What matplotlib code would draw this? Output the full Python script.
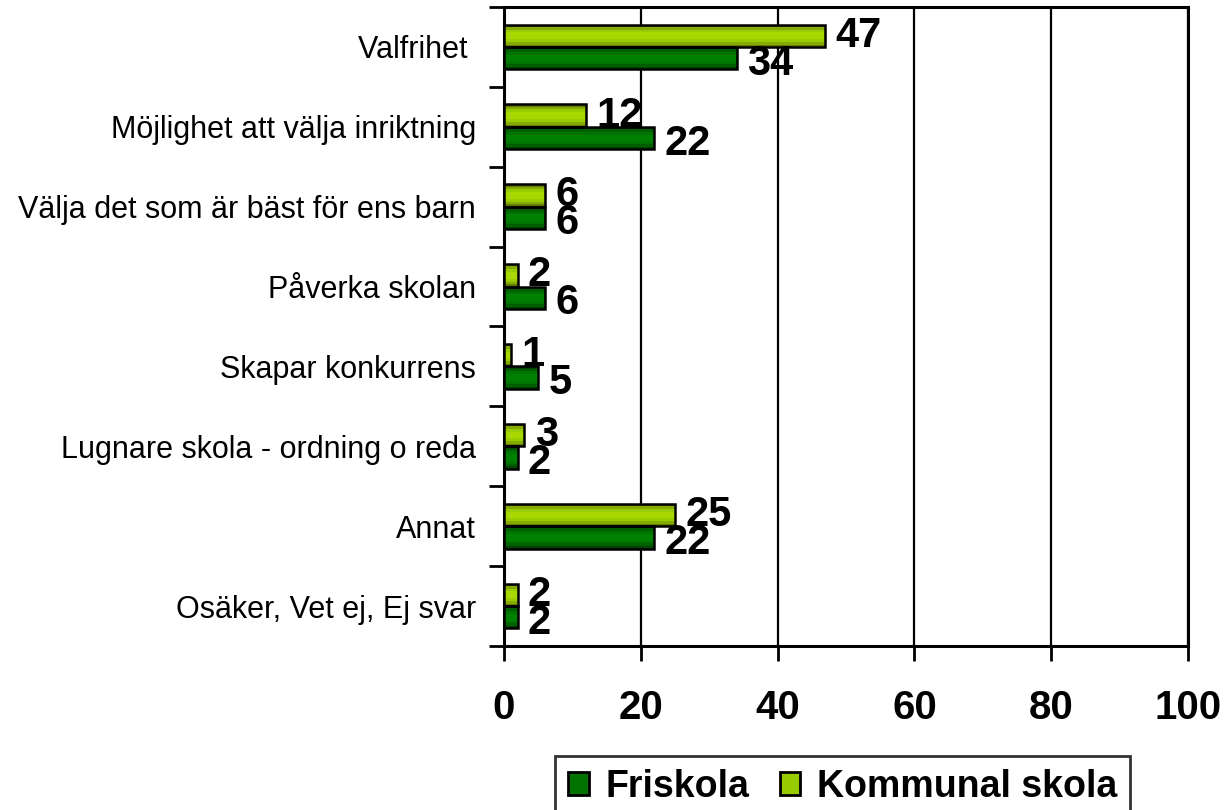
import numpy as np
import matplotlib.pyplot as plt
from matplotlib.patches import Patch

plt.rcParams['font.family'] = ['Liberation Sans', 'DejaVu Sans']

categories = ["Valfrihet ", "Möjlighet att välja inriktning", "Välja det som är bäst för ens barn",
              "Påverka skolan", "Skapar konkurrens", "Lugnare skola - ordning o reda",
              "Annat", "Osäker, Vet ej, Ej svar"]
friskola = [34, 22, 6, 6, 5, 2, 22, 2]
kommunal = [47, 12, 6, 2, 1, 3, 25, 2]
x_ticks = [0, 20, 40, 60, 80, 100]

# stripe colours, outer -> inner, to fake the gradient fill
dark_shades = ["#004400", "#006000", "#007400", "#008000"]
light_shades = ["#667a00", "#85aa00", "#99cc00", "#a8d800"]

fig = plt.figure(figsize=(12.25, 8.1), dpi=100)
ax = fig.add_axes([0.4114, 0.2025, 0.5584, 0.7889])

y = np.arange(len(categories))
h = 0.28

def striped_barh(ypos, vals, shades):
    fracs = [1.0, 0.8, 0.55, 0.3]
    for f, c in zip(fracs, shades):
        ax.barh(ypos, vals, height=h * f, color=c, linewidth=0, zorder=3)
    ax.barh(ypos, vals, height=h, fill=False, edgecolor="black", linewidth=1.8, zorder=4)

striped_barh(y - h / 2, kommunal, light_shades)
striped_barh(y + h / 2, friskola, dark_shades)

for i in range(len(categories)):
    ax.text(kommunal[i] + 1.5, y[i] - h / 2, str(kommunal[i]), va="center", ha="left",
            fontsize=30, fontweight="bold", zorder=5)
    ax.text(friskola[i] + 1.5, y[i] + h / 2 + 0.07, str(friskola[i]), va="center", ha="left",
            fontsize=30, fontweight="bold", zorder=5)

ax.set_xlim(0, 100)
ax.set_ylim(len(categories) - 0.5, -0.5)
ax.set_xticks(x_ticks)
ax.set_xticklabels([str(t) for t in x_ticks], fontsize=29, fontweight="bold")
ax.tick_params(axis="x", direction="out", length=11, width=2, pad=20)

# boundary ticks on the left, labels centred in each band
ax.set_yticks(np.arange(len(categories) + 1) - 0.5)
ax.set_yticklabels([])
ax.tick_params(axis="y", which="major", direction="out", length=11, width=2)
ax.set_yticks(y, minor=True)
ax.set_yticklabels(categories, minor=True, fontsize=22)
ax.tick_params(axis="y", which="minor", length=0, pad=20)

ax.grid(axis="x", color="black", linewidth=1.6, zorder=0)
for s in ax.spines.values():
    s.set_linewidth(2.2)

handles = [Patch(facecolor="#007300", edgecolor="black", linewidth=2, label="Friskola"),
           Patch(facecolor="#99cc00", edgecolor="black", linewidth=2, label="Kommunal skola")]
leg = fig.legend(handles=handles, loc="upper center", bbox_to_anchor=(0.688, 0.067), ncol=2,
                 frameon=True, fancybox=False, edgecolor="black", handlelength=0.55, handleheight=0.55,
                 handletextpad=0.45, columnspacing=0.8, borderpad=0.35, borderaxespad=0,
                 prop={"size": 27, "weight": "bold"})
leg.get_frame().set_linewidth(2)

fig.savefig("out.png", dpi=100)
